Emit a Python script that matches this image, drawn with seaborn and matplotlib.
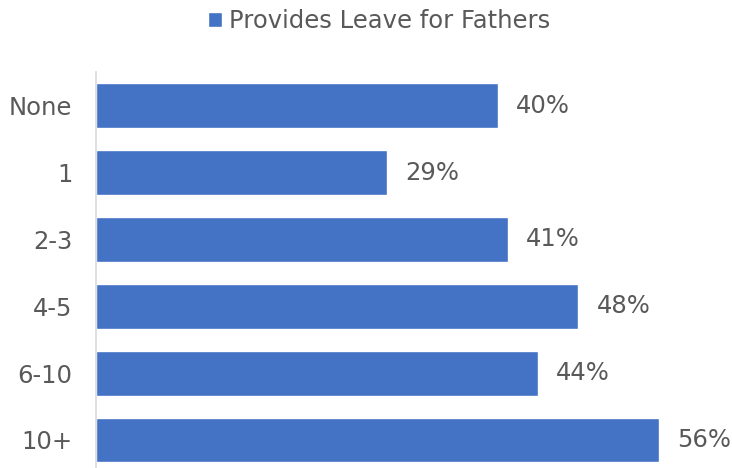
import matplotlib
matplotlib.use("Agg")
import matplotlib.pyplot as plt
import seaborn as sns
import pandas as pd

# Share of employers providing leave for fathers, by group size
categories = ["None", "1", "2-3", "4-5", "6-10", "10+"]
values = [40, 29, 41, 48, 44, 56]
series_name = "Provides Leave for Fathers"

df = pd.DataFrame({"group": categories, "pct": values, "series": series_name})

sns.set_theme(style="white")
plt.rcParams["font.family"] = ["DejaVu Sans"]

TEXT = "#595959"
BLUE = "#4472C4"
FS = 17.5

fig = plt.figure(figsize=(7.32, 4.68), dpi=100)
ax = fig.add_axes([96 / 732, -5.4 / 468, 603 / 732, 401 / 468])

sns.barplot(data=df, y="group", x="pct", hue="series", palette=[BLUE],
            order=categories, width=0.67, saturation=1, ax=ax, legend=True)

ax.set_xlim(0, 60)
ax.set_xlabel("")
ax.set_ylabel("")
ax.set_xticks([])
for s in ["top", "right", "bottom"]:
    ax.spines[s].set_visible(False)
ax.spines["left"].set_color("#D9D9D9")
ax.spines["left"].set_linewidth(1.2)
ax.tick_params(axis="y", length=0, pad=17, labelsize=FS, labelcolor=TEXT)

for container in ax.containers:
    ax.bar_label(container, labels=[f"{v}%" for v in values], padding=13,
                 fontsize=FS, color=TEXT)

handles, labels = ax.get_legend_handles_labels()
ax.get_legend().remove()
fig.legend(handles, labels, loc="upper center", bbox_to_anchor=(0.518, 1.027),
           frameon=False, fontsize=FS, labelcolor=TEXT,
           handlelength=0.6, handleheight=0.6, handletextpad=0.3)

fig.savefig("out.png", dpi=100)
